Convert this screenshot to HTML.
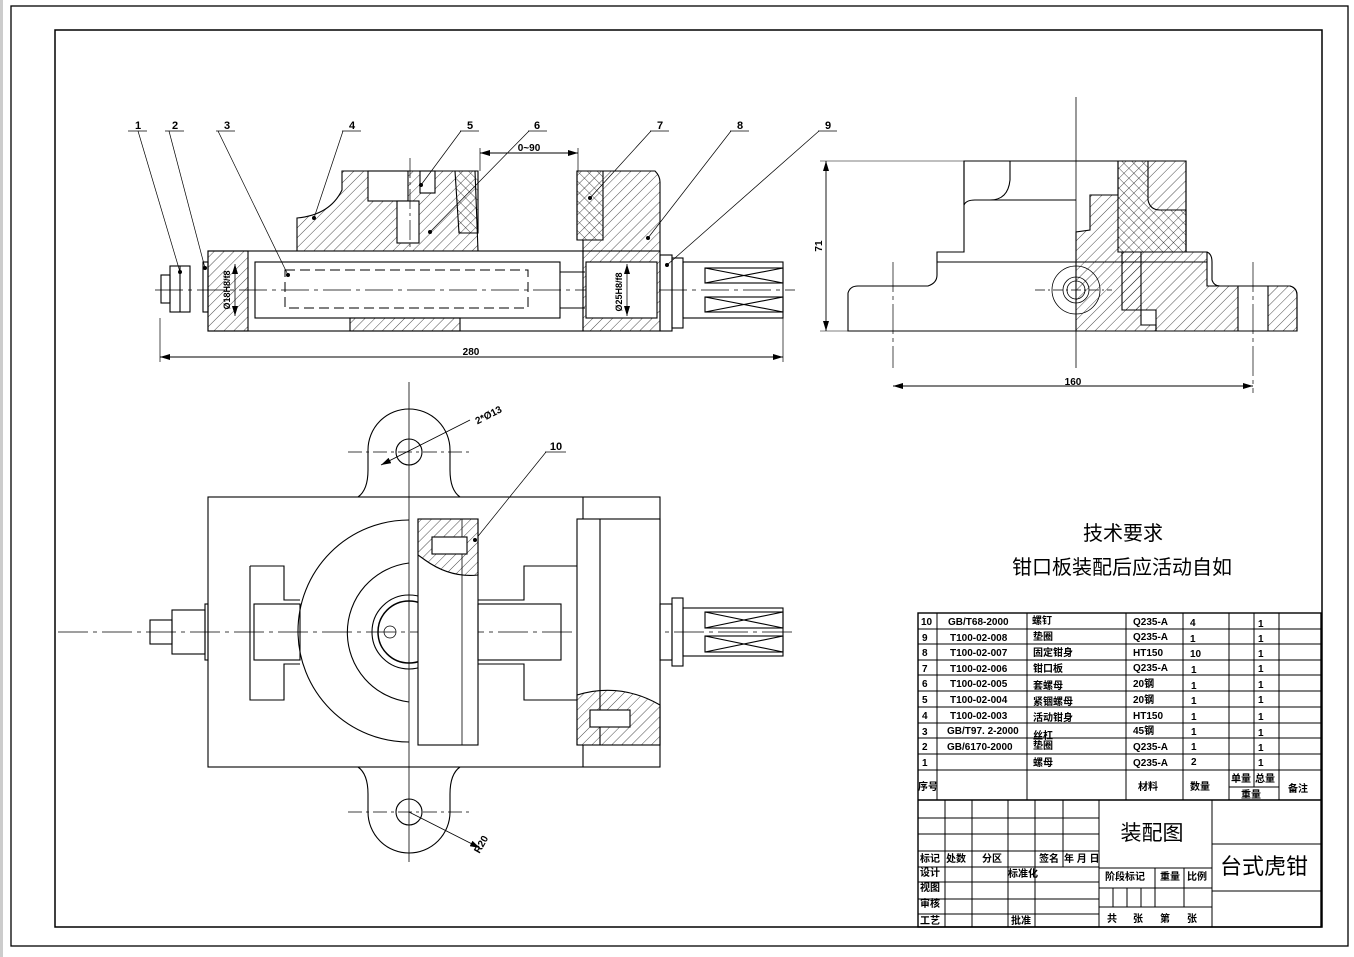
<!DOCTYPE html>
<html><head><meta charset="utf-8"><style>
html,body{margin:0;padding:0;background:#fff;}
svg{display:block;}
text{font-family:"Liberation Sans","Noto Sans CJK SC",sans-serif;fill:#000;}
</style></head><body>
<svg width="1354" height="957" viewBox="0 0 1354 957" xmlns="http://www.w3.org/2000/svg">
<defs>
<pattern id="h1" width="7" height="7" patternUnits="userSpaceOnUse" patternTransform="rotate(45)"><line x1="0" y1="0" x2="0" y2="7" stroke="#000" stroke-width="0.7"/></pattern>
<pattern id="h2" width="7" height="7" patternUnits="userSpaceOnUse" patternTransform="rotate(-45)"><line x1="0" y1="0" x2="0" y2="7" stroke="#000" stroke-width="0.7"/></pattern>
<marker id="ar" markerWidth="10" markerHeight="6" refX="10" refY="3" orient="auto-start-reverse" markerUnits="userSpaceOnUse"><path d="M0 0 L10 3 L0 6 Z" fill="#000"/></marker>
</defs>
<rect x="0" y="0" width="3" height="957" fill="#ccc"/>
<rect x="11" y="6" width="1337" height="940" fill="none" stroke="#000" stroke-width="1.3"/>
<rect x="55" y="30" width="1267" height="897" fill="none" stroke="#000" stroke-width="1.5"/>

<g fill="none" stroke="#000" stroke-width="1.1">
<!-- FRONT VIEW -->
<line x1="155" y1="290" x2="795" y2="290" stroke-width="0.8" stroke-dasharray="28,5,4,5"/>
<rect x="170" y="266" width="20" height="46"/>
<rect x="161" y="275" width="9" height="28"/>
<line x1="180" y1="266" x2="180" y2="312"/>
<rect x="203" y="262" width="5" height="50"/>
<rect x="208" y="251" width="40" height="80" fill="url(#h1)"/>
<rect x="208" y="251" width="375" height="80"/>
<rect x="255" y="262" width="305" height="56"/>
<rect x="285" y="270" width="243" height="38" stroke-dasharray="10,5" stroke-width="1"/>
<line x1="560" y1="272" x2="585" y2="272"/><line x1="560" y1="308" x2="585" y2="308"/>
<rect x="350" y="318" width="110" height="13" fill="url(#h1)"/>
<path d="M297 251 L297 218 Q330 215 342 190 L342 171 L475 171 L478 251 Z" fill="url(#h1)"/>
<rect x="368" y="171" width="40" height="30" fill="#fff"/>
<rect x="397" y="201" width="22" height="42" fill="#fff"/>
<path d="M455 171 L478 171 L478 233 L459 233 Z" fill="url(#h2)"/>
<rect x="420" y="171" width="15" height="22" fill="#fff"/>
<path d="M577 171 L655 171 Q660 176 660 182 L660 251 L583 251 L583 240 L577 240 Z" fill="url(#h1)"/>
<path d="M577 171 L603 171 L603 240 L577 240 Z" fill="url(#h2)"/>
<rect x="583" y="251" width="77" height="80" fill="url(#h1)"/>
<rect x="586" y="262" width="71" height="56" fill="#fff"/>
<rect x="660" y="255" width="12" height="76"/>
<rect x="672" y="258" width="11" height="70"/>
<rect x="683" y="262" width="100" height="56"/>
<rect x="705" y="268" width="78" height="15"/><line x1="705" y1="268" x2="783" y2="283"/><line x1="705" y1="283" x2="783" y2="268"/>
<rect x="705" y="297" width="78" height="15"/><line x1="705" y1="297" x2="783" y2="312"/><line x1="705" y1="312" x2="783" y2="297"/>
<line x1="410" y1="158" x2="410" y2="250" stroke-width="0.7" stroke-dasharray="20,4,3,4"/>
<!-- dims front -->
<line x1="160" y1="357" x2="783" y2="357" stroke-width="0.9" marker-start="url(#ar)" marker-end="url(#ar)"/>
<line x1="160" y1="318" x2="160" y2="362" stroke-width="0.7"/><line x1="783" y1="318" x2="783" y2="362" stroke-width="0.7"/>
<line x1="480" y1="153" x2="578" y2="153" stroke-width="0.9" marker-start="url(#ar)" marker-end="url(#ar)"/>
<line x1="480" y1="148" x2="480" y2="171" stroke-width="0.7"/><line x1="578" y1="148" x2="578" y2="171" stroke-width="0.7"/>
<line x1="627" y1="264" x2="627" y2="316" stroke-width="0.8" marker-start="url(#ar)" marker-end="url(#ar)"/>
<line x1="235" y1="264" x2="235" y2="316" stroke-width="0.8" marker-start="url(#ar)" marker-end="url(#ar)"/>
<!-- leaders -->
<g stroke-width="0.7">
<line x1="128" y1="131" x2="147" y2="131"/><line x1="138" y1="131" x2="180" y2="272"/>
<line x1="165" y1="131" x2="184" y2="131"/><line x1="169" y1="131" x2="205" y2="268"/>
<line x1="216" y1="131" x2="235" y2="131"/><line x1="218" y1="131" x2="288" y2="275"/>
<line x1="342" y1="131" x2="361" y2="131"/><line x1="343" y1="131" x2="314" y2="218"/>
<line x1="460" y1="131" x2="479" y2="131"/><line x1="461" y1="131" x2="421" y2="185"/>
<line x1="528" y1="131" x2="547" y2="131"/><line x1="529" y1="131" x2="430" y2="232"/>
<line x1="650" y1="131" x2="669" y2="131"/><line x1="651" y1="131" x2="590" y2="198"/>
<line x1="730" y1="131" x2="749" y2="131"/><line x1="731" y1="131" x2="648" y2="238"/>
<line x1="818" y1="131" x2="837" y2="131"/><line x1="819" y1="131" x2="667" y2="265"/>
<line x1="545" y1="452" x2="566" y2="452"/><line x1="546" y1="452" x2="475" y2="540"/>
</g>

<!-- SIDE VIEW -->
<line x1="1076" y1="97" x2="1076" y2="368" stroke-width="0.8"/>
<path d="M964 161 L1186 161 L1186 252 L1207 252 Q1212 254 1212 262 L1212 280 Q1214 286 1220 286 L1290 286 Q1297 288 1297 295 L1297 331 L848 331 L848 293 Q850 286 858 286 L928 286 Q937 283 937 275 L937 252 L964 252 Z"/>
<line x1="937" y1="252" x2="964" y2="252"/><line x1="937" y1="262" x2="1207" y2="262"/>
<path d="M964 161 L964 205 Q966 200 975 200 L1076 200"/>
<path d="M1010 161 L1010 180 Q1008 200 990 200"/>
<path d="M1118 161 L1186 161 L1186 252 L1141 252 L1141 325 L1156 325 L1156 331 L1076 331 L1076 232 L1090 230 L1090 195 L1118 195 Z" fill="url(#h1)"/>
<path d="M1118 161 L1148 161 L1148 200 Q1150 210 1160 210 L1186 210 L1186 252 L1118 252 Z" fill="url(#h2)"/>
<path d="M1122 252 L1207 252 L1207 286 L1238 286 L1238 331 L1156 331 L1156 310 L1122 310 Z" fill="url(#h1)"/>
<path d="M1268 286 L1290 286 Q1297 288 1297 295 L1297 331 L1268 331 Z" fill="url(#h1)"/>
<circle cx="1076" cy="290" r="24" stroke-width="0.8"/><circle cx="1076" cy="290" r="13" stroke-width="0.8"/><circle cx="1076" cy="290" r="9" stroke-width="0.8"/>
<line x1="1035" y1="290" x2="1112" y2="290" stroke-width="0.7" stroke-dasharray="10,3,2,3"/>
<line x1="893" y1="262" x2="893" y2="368" stroke-width="0.7" stroke-dasharray="30,4,4,4"/>
<line x1="1253" y1="262" x2="1253" y2="393" stroke-width="0.7" stroke-dasharray="30,4,4,4"/>
<line x1="893" y1="386" x2="1253" y2="386" stroke-width="0.9" marker-start="url(#ar)" marker-end="url(#ar)"/>
<line x1="826" y1="161" x2="826" y2="331" stroke-width="0.9" marker-start="url(#ar)" marker-end="url(#ar)"/>
<line x1="820" y1="161" x2="964" y2="161" stroke-width="0.6"/><line x1="820" y1="331" x2="848" y2="331" stroke-width="0.6"/>

<!-- TOP VIEW -->
<line x1="58" y1="632" x2="795" y2="632" stroke-width="0.8" stroke-dasharray="30,5,4,5"/>
<line x1="409" y1="382" x2="409" y2="862" stroke-width="0.8"/>
<path d="M358 497 Q368 490 368 470 L368 450 A41 41 0 0 1 450 450 L450 470 Q450 490 460 497"/>
<path d="M358 767 Q368 774 368 794 L368 812 A41 41 0 0 0 450 812 L450 794 Q450 774 460 767"/>
<circle cx="409" cy="452" r="13"/><circle cx="409" cy="812" r="13"/>
<line x1="348" y1="452" x2="470" y2="452" stroke-width="0.7" stroke-dasharray="14,4,3,4"/>
<line x1="348" y1="812" x2="470" y2="812" stroke-width="0.7" stroke-dasharray="14,4,3,4"/>
<rect x="208" y="497" width="452" height="270"/>
<line x1="583" y1="497" x2="583" y2="767"/>
<path d="M409 520 A110 110 0 0 0 409 742"/>
<path d="M409 563 A70 70 0 0 0 409 702"/>
<circle cx="409" cy="632" r="37"/><circle cx="409" cy="632" r="31" stroke-width="1.5"/>
<circle cx="390" cy="632" r="6" stroke-width="0.8"/><circle cx="433" cy="632" r="6" stroke-width="0.8"/>
<rect x="418" y="519" width="60" height="226" fill="#fff"/>
<path d="M418 519 L478 519 L478 575 Q450 578 425 560 L418 555 Z" fill="url(#h1)"/>
<line x1="462" y1="519" x2="462" y2="745" stroke-width="0.8"/>
<rect x="432" y="537" width="35" height="17" fill="#fff"/>
<path d="M250 566 L284 566 L284 600 L300 600 M250 566 L250 700 L284 700 L284 664 L300 664"/>
<rect x="254" y="604" width="46" height="56"/>
<path d="M478 600 L524 600 L524 566 L577 566 M478 664 L524 664 L524 700 L577 700"/>
<rect x="478" y="604" width="83" height="56"/>
<rect x="577" y="519" width="83" height="226" fill="#fff"/>
<line x1="600" y1="519" x2="600" y2="745"/>
<path d="M577 695 Q620 682 660 705 L660 745 L577 745 Z" fill="url(#h1)"/>
<rect x="590" y="710" width="40" height="17" fill="#fff"/>
<rect x="205" y="604" width="3" height="56"/>
<rect x="172" y="610" width="33" height="44"/><rect x="150" y="620" width="22" height="24"/>
<rect x="660" y="604" width="12" height="56"/><rect x="672" y="598" width="11" height="68"/>
<rect x="683" y="608" width="100" height="48"/>
<rect x="705" y="612" width="78" height="16"/><line x1="705" y1="612" x2="783" y2="628"/><line x1="705" y1="628" x2="783" y2="612"/>
<rect x="705" y="636" width="78" height="16"/><line x1="705" y1="636" x2="783" y2="652"/><line x1="705" y1="652" x2="783" y2="636"/>
<line x1="381" y1="465" x2="470" y2="420" stroke-width="0.8" marker-start="url(#ar)"/>
<line x1="409" y1="812" x2="480" y2="848" stroke-width="0.8" marker-end="url(#ar)"/>
</g>
<g fill="#000">
<circle cx="180" cy="272" r="2"/><circle cx="205" cy="268" r="2"/><circle cx="288" cy="275" r="2"/><circle cx="314" cy="218" r="2"/><circle cx="421" cy="185" r="2"/><circle cx="430" cy="232" r="2"/><circle cx="590" cy="198" r="2"/><circle cx="648" cy="238" r="2"/><circle cx="667" cy="265" r="2"/><circle cx="475" cy="540" r="2"/>
</g>

<g font-size="11" font-weight="bold" text-anchor="middle">
<text x="138" y="129">1</text><text x="175" y="129">2</text><text x="227" y="129">3</text><text x="352" y="129">4</text><text x="470" y="129">5</text><text x="537" y="129">6</text><text x="660" y="129">7</text><text x="740" y="129">8</text><text x="828" y="129">9</text><text x="556" y="450">10</text>
<text x="529" y="151" font-size="10">0~90</text>
<text x="471" y="355" font-size="10">280</text>
<text x="1073" y="385" font-size="10">160</text>
<text x="822" y="246" font-size="10" transform="rotate(-90 822 246)">71</text>
<text x="230" y="290" font-size="9" transform="rotate(-90 230 290)">Ø18H8/f8</text>
<text x="622" y="292" font-size="9" transform="rotate(-90 622 292)">Ø25H8/f8</text>
<text x="490" y="418" font-size="10" transform="rotate(-27 490 418)">2*Ø13</text>
<text x="484" y="846" font-size="10" transform="rotate(-60 484 846)">R20</text>
</g>

<text x="1123" y="540" font-size="20" text-anchor="middle">技术要求</text>
<text x="1122" y="574" font-size="20" text-anchor="middle">钳口板装配后应活动自如</text>

<!-- TABLE -->
<g stroke="#000" stroke-width="1" fill="none">
<rect x="918" y="613" width="403" height="314" stroke-width="1.4"/>
<line x1="918" y1="629" x2="1321" y2="629"/><line x1="918" y1="644" x2="1321" y2="644"/><line x1="918" y1="660" x2="1321" y2="660"/><line x1="918" y1="675" x2="1321" y2="675"/><line x1="918" y1="691" x2="1321" y2="691"/><line x1="918" y1="707" x2="1321" y2="707"/><line x1="918" y1="723" x2="1321" y2="723"/><line x1="918" y1="738" x2="1321" y2="738"/><line x1="918" y1="754" x2="1321" y2="754"/><line x1="918" y1="770" x2="1321" y2="770"/>
<line x1="918" y1="800" x2="1321" y2="800" stroke-width="1.4"/>
<line x1="937" y1="613" x2="937" y2="800"/><line x1="1027" y1="613" x2="1027" y2="800"/><line x1="1126" y1="613" x2="1126" y2="800"/><line x1="1183" y1="613" x2="1183" y2="800"/><line x1="1229" y1="613" x2="1229" y2="800"/><line x1="1254" y1="613" x2="1254" y2="787"/><line x1="1279" y1="613" x2="1279" y2="800"/><line x1="1229" y1="787" x2="1279" y2="787"/>
<line x1="918" y1="818" x2="1099" y2="818"/><line x1="918" y1="834" x2="1099" y2="834"/><line x1="918" y1="851" x2="1099" y2="851"/><line x1="918" y1="867" x2="1099" y2="867"/><line x1="918" y1="882" x2="1099" y2="882"/><line x1="918" y1="899" x2="1099" y2="899"/><line x1="918" y1="914" x2="1099" y2="914"/>
<line x1="945" y1="800" x2="945" y2="927"/><line x1="972" y1="800" x2="972" y2="927"/><line x1="1008" y1="800" x2="1008" y2="927"/><line x1="1035" y1="800" x2="1035" y2="927"/><line x1="1063" y1="800" x2="1063" y2="867"/><line x1="1099" y1="800" x2="1099" y2="927"/><line x1="1212" y1="800" x2="1212" y2="927"/>
<line x1="1099" y1="868" x2="1212" y2="868"/><line x1="1099" y1="888" x2="1212" y2="888"/><line x1="1099" y1="907" x2="1212" y2="907"/>
<line x1="1155" y1="868" x2="1155" y2="907"/><line x1="1184" y1="868" x2="1184" y2="907"/><line x1="1113" y1="888" x2="1113" y2="907"/><line x1="1127" y1="888" x2="1127" y2="907"/><line x1="1141" y1="888" x2="1141" y2="907"/>
<line x1="1212" y1="844" x2="1321" y2="844"/><line x1="1212" y1="891" x2="1321" y2="891"/>
</g>
<g font-size="10" font-weight="bold">
<text x="921" y="625">10</text><text x="948" y="625">GB/T68-2000</text><text x="1032" y="624">螺钉</text><text x="1133" y="625">Q235-A</text><text x="1190" y="626">4</text><text x="1258" y="627">1</text>
<text x="922" y="641">9</text><text x="950" y="641">T100-02-008</text><text x="1033" y="640">垫圈</text><text x="1133" y="640">Q235-A</text><text x="1190" y="642">1</text><text x="1258" y="642">1</text>
<text x="922" y="656">8</text><text x="950" y="656">T100-02-007</text><text x="1033" y="656">固定钳身</text><text x="1133" y="656">HT150</text><text x="1190" y="657">10</text><text x="1258" y="657">1</text>
<text x="922" y="672">7</text><text x="950" y="672">T100-02-006</text><text x="1033" y="672">钳口板</text><text x="1133" y="671">Q235-A</text><text x="1191" y="673">1</text><text x="1258" y="672">1</text>
<text x="922" y="687">6</text><text x="950" y="687">T100-02-005</text><text x="1033" y="689">套螺母</text><text x="1133" y="687">20钢</text><text x="1191" y="689">1</text><text x="1258" y="688">1</text>
<text x="922" y="703">5</text><text x="950" y="703">T100-02-004</text><text x="1033" y="705">紧锢螺母</text><text x="1133" y="703">20钢</text><text x="1191" y="704">1</text><text x="1258" y="703">1</text>
<text x="922" y="719">4</text><text x="950" y="719">T100-02-003</text><text x="1033" y="721">活动钳身</text><text x="1133" y="719">HT150</text><text x="1191" y="720">1</text><text x="1258" y="720">1</text>
<text x="922" y="735">3</text><text x="947" y="734">GB/T97. 2-2000</text><text x="1033" y="739">丝杠</text><text x="1133" y="734">45钢</text><text x="1191" y="735">1</text><text x="1258" y="736">1</text>
<text x="922" y="750">2</text><text x="947" y="750">GB/6170-2000</text><text x="1033" y="749">垫圈</text><text x="1133" y="750">Q235-A</text><text x="1191" y="750">1</text><text x="1258" y="751">1</text>
<text x="922" y="766">1</text><text x="1033" y="766">螺母</text><text x="1133" y="766">Q235-A</text><text x="1191" y="765">2</text><text x="1258" y="766">1</text>
<text x="918" y="790">序号</text><text x="1138" y="790">材料</text><text x="1190" y="790">数量</text><text x="1231" y="782">单量</text><text x="1255" y="782">总量</text><text x="1241" y="798">重量</text><text x="1288" y="792">备注</text>
<text x="920" y="862">标记</text><text x="946" y="862">处数</text><text x="982" y="862">分区</text><text x="1039" y="862">签名</text><text x="1064" y="862">年 月 日</text>
<text x="920" y="876">设计</text><text x="1008" y="877">标准化</text><text x="920" y="891">视图</text><text x="920" y="907">审核</text><text x="920" y="924">工艺</text><text x="1011" y="924">批准</text>
<text x="1105" y="880">阶段标记</text><text x="1160" y="880">重量</text><text x="1187" y="880">比例</text>
<text x="1107" y="922">共</text><text x="1133" y="922">张</text><text x="1160" y="922">第</text><text x="1187" y="922">张</text>
</g>
<text x="1152" y="840" font-size="21" text-anchor="middle">装配图</text>
<text x="1264" y="874" font-size="22" text-anchor="middle">台式虎钳</text>
</svg>
</body></html>
